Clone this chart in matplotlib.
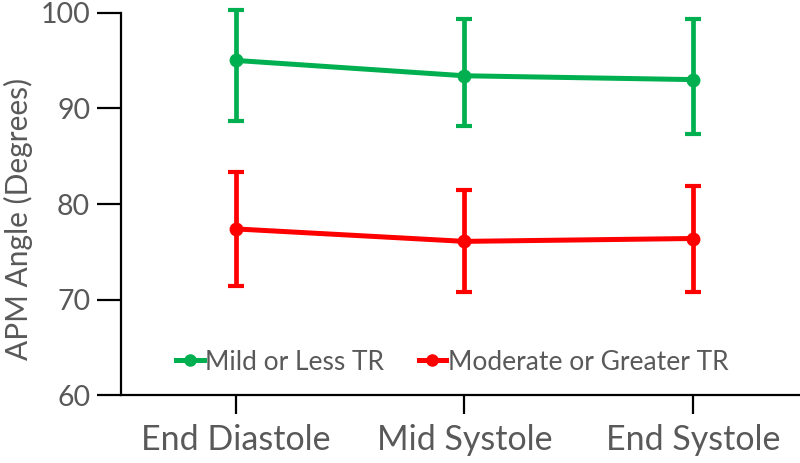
import matplotlib
matplotlib.use("Agg")
import matplotlib.pyplot as plt
from matplotlib.lines import Line2D
import numpy as np

categories = ["End Diastole", "Mid Systole", "End Systole"]
series_names = ["Mild or Less TR", "Moderate or Greater TR"]
mild_mean = [95.0, 93.4, 93.0]
mild_low = [88.7, 88.2, 87.3]
mild_high = [100.3, 99.3, 99.3]
mod_mean = [77.4, 76.1, 76.4]
mod_low = [71.4, 70.8, 70.8]
mod_high = [83.3, 81.5, 81.9]
yticks = [60, 70, 80, 90, 100]
colors = ["#00B050", "#FF0000"]

plt.rcParams['font.family'] = ['Lato', 'DejaVu Sans']
text_color = "#595959"

fig = plt.figure(figsize=(8, 4.63), dpi=100)
ax = fig.add_axes([0.151, 0.1458, 0.849, 0.827])

x = np.arange(len(categories))
handles = []
for mean, low, high, c, name in [(mild_mean, mild_low, mild_high, colors[0], series_names[0]),
                                 (mod_mean, mod_low, mod_high, colors[1], series_names[1])]:
    mean = np.array(mean); low = np.array(low); high = np.array(high)
    ax.errorbar(x, mean, yerr=[mean - low, high - mean], color=c, lw=3.6,
                marker='o', ms=9, elinewidth=3.4, capsize=5.5, capthick=3.0,
                clip_on=False, zorder=3)
    handles.append(Line2D([], [], color=c, lw=3.6, marker='o', ms=8, label=name))

ax.set_xlim(-0.505, 2.47)
ax.set_ylim(60, 100)
ax.set_yticks(yticks)
ax.set_xticks(x)
ax.set_xticklabels(categories)
ax.set_ylabel("APM Angle (Degrees)", fontsize=21.5, color=text_color)
ax.yaxis.set_label_coords(-0.13, 0.46)

for s in ["top", "right"]:
    ax.spines[s].set_visible(False)
for s in ["left", "bottom"]:
    ax.spines[s].set_linewidth(1.6)
    ax.spines[s].set_color("black")

ax.tick_params(axis='y', length=17, width=1.6, pad=5, labelsize=20.5, labelcolor=text_color)
ax.tick_params(axis='x', length=13.5, width=1.6, pad=7, labelsize=24.5, labelcolor=text_color)

leg = ax.legend(handles=handles, loc='center', bbox_to_anchor=(0.488, 0.087), ncol=2,
                frameon=False, fontsize=19, handlelength=1.05, handletextpad=0.05,
                columnspacing=1.3, labelcolor=text_color)

fig.savefig("out.png", dpi=100)
